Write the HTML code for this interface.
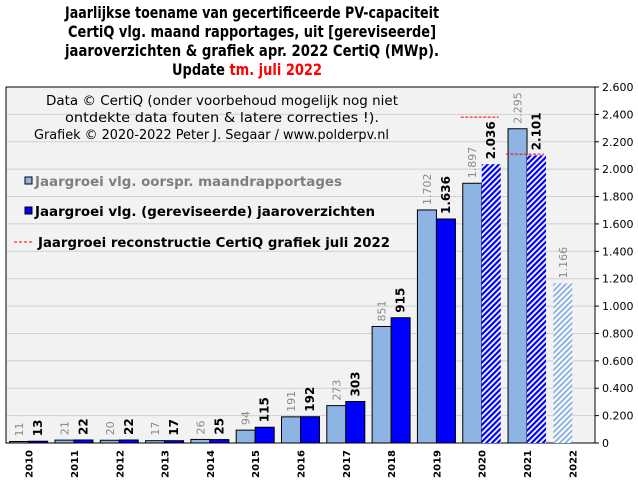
<!DOCTYPE html>
<html><head><meta charset="utf-8"><style>
body{margin:0;background:#fff}
svg{display:block;font-family:"DejaVu Sans","Liberation Sans",sans-serif}
</style></head><body>
<svg id="c" width="638" height="481" viewBox="0 0 638 481">
<g font-weight="bold" font-size="16" text-anchor="middle" fill="#000">
<text x="252" y="18" textLength="374" lengthAdjust="spacingAndGlyphs">Jaarlijkse toename van gecertificeerde PV-capaciteit</text>
<text x="252" y="37" textLength="368" lengthAdjust="spacingAndGlyphs">CertiQ vlg. maand rapportages, uit [gereviseerde]</text>
<text x="252" y="56" textLength="374" lengthAdjust="spacingAndGlyphs">jaaroverzichten &amp; grafiek apr. 2022 CertiQ (MWp).</text>
<text x="247" y="75" textLength="150" lengthAdjust="spacingAndGlyphs">Update <tspan fill="#ff0000">tm. juli 2022</tspan></text>
</g>
<defs>
<pattern id="hb" width="4" height="4" patternUnits="userSpaceOnUse" patternTransform="rotate(45)"><rect width="4" height="4" fill="#fff"/><rect width="2.2" height="4" fill="#0000ff"/></pattern>
<pattern id="hl" width="4" height="4" patternUnits="userSpaceOnUse" patternTransform="rotate(45)"><rect width="4" height="4" fill="#fff"/><rect width="2" height="4" fill="#8eb4e3"/></pattern>
</defs>
<rect x="6" y="87" width="589" height="356" fill="#f2f2f2" stroke="#000"/>
<g id="grid"></g>
<g id="bars"></g>
<g id="axis"></g>
<g font-size="13">
<text x="222" y="105" text-anchor="middle" textLength="352" lengthAdjust="spacingAndGlyphs">Data © CertiQ (onder voorbehoud mogelijk nog niet</text>
<text x="222" y="122" text-anchor="middle" textLength="314" lengthAdjust="spacingAndGlyphs">ontdekte data fouten &amp; latere correcties !).</text>
<text x="34" y="139" textLength="355" lengthAdjust="spacingAndGlyphs">Grafiek © 2020-2022 Peter J. Segaar / www.polderpv.nl</text>
<rect x="25" y="177" width="7" height="7" fill="#8eb4e3" stroke="#000"/>
<text x="35" y="186" font-weight="bold" fill="#7f7f7f" textLength="307" lengthAdjust="spacingAndGlyphs">Jaargroei vlg. oorspr. maandrapportages</text>
<rect x="25" y="207" width="7" height="7" fill="#0000ff" stroke="#000"/>
<text x="35" y="216" font-weight="bold" fill="#000" textLength="340" lengthAdjust="spacingAndGlyphs">Jaargroei vlg. (gereviseerde) jaaroverzichten</text>
<line x1="14" y1="242" x2="33" y2="242" stroke="#ff0000" stroke-dasharray="3,2"/>
<text x="38" y="247" font-weight="bold" fill="#000" textLength="352" lengthAdjust="spacingAndGlyphs">Jaargroei reconstructie CertiQ grafiek juli 2022</text>
</g>
</svg>
<script>
const years=["2010","2011","2012","2013","2014","2015","2016","2017","2018","2019","2020","2021","2022"];
const monthly=[11,21,20,17,26,94,191,273,851,1702,1897,2295,1166];
const annual=[13,22,22,17,25,115,192,303,915,1636,2036,2101,null];
const reconstruction=[null,null,null,null,null,null,null,null,null,null,2380,2110,null];
const hatchedMonthly=[false,false,false,false,false,false,false,false,false,false,false,false,true];
const hatchedAnnual=[false,false,false,false,false,false,false,false,false,false,true,true,false];
const yTicks=[0,200,400,600,800,1000,1200,1400,1600,1800,2000,2200,2400,2600];
const ns="http://www.w3.org/2000/svg";
const X0=6,X1=595,Y0=443,Y1=87,YMAX=2600;
const gw=(X1-X0)/years.length,bw=19;
const y=v=>Y0-(v/YMAX)*(Y0-Y1);
const gx=i=>X0+gw*(i+0.5);
function mk(t,a,p){const e=document.createElementNS(ns,t);for(const k in a)e.setAttribute(k,a[k]);p.appendChild(e);return e;}
const fmt=v=>v>=1000?(v/1000).toFixed(3):String(v);
const grid=document.getElementById('grid'),bars=document.getElementById('bars'),axis=document.getElementById('axis');
mk('line',{x1:X1,y1:Y1,x2:X1,y2:Y0,stroke:'#000'},axis);
yTicks.forEach(v=>{
 if(v>0&&v<YMAX){const l=mk('line',{x1:X0+1,x2:X1,y1:y(v),y2:y(v),stroke:'#d0d0d0'},grid);
 
 }
 mk('line',{x1:X1,x2:X1+4,y1:y(v),y2:y(v),stroke:'#000'},axis);
 const t=mk('text',{x:X1+7,y:y(v)+4,'font-size':11,fill:'#000'},axis);
 t.textContent=v===0?'0':(v/1000).toFixed(3);
 
 
});
years.forEach((yr,i)=>{
 const c=gx(i);
 const t=mk('text',{x:0,y:0,'font-size':10,'font-weight':'bold','text-anchor':'end',transform:`translate(${c+4},${Y0+7}) rotate(-90)`},axis);
 t.textContent=yr;
 
 
 if(monthly[i]!=null){
  const r=mk('rect',{x:c-bw,y:y(monthly[i]),width:bw,height:Y0-y(monthly[i]),fill:hatchedMonthly[i]?'url(#hl)':'#8eb4e3',stroke:hatchedMonthly[i]?'none':'#000'},bars);
  
  
  const l=mk('text',{x:0,y:0,'font-size':11,fill:'#8a8a8a',transform:`translate(${c-bw/2+4},${y(monthly[i])-5}) rotate(-90)`},bars);
  l.textContent=fmt(monthly[i]);
  
  
 }
 if(annual[i]!=null){
  const r=mk('rect',{x:c,y:y(annual[i]),width:bw,height:Y0-y(annual[i]),fill:hatchedAnnual[i]?'url(#hb)':'#0000ff',stroke:hatchedAnnual[i]?'none':'#000'},bars);
  
  
  const l=mk('text',{x:0,y:0,'font-size':12,'font-weight':'bold',fill:'#000',transform:`translate(${c+bw/2+4},${y(annual[i])-5}) rotate(-90)`},bars);
  l.textContent=fmt(annual[i]);
  
  
 }
 if(reconstruction[i]!=null){
  const d=mk('line',{x1:c-bw-2,x2:c+bw-2,y1:y(reconstruction[i]),y2:y(reconstruction[i]),stroke:'#ff0000','stroke-dasharray':'3,1.5'},bars);
  
  
 }
});
</script>
</body></html>
